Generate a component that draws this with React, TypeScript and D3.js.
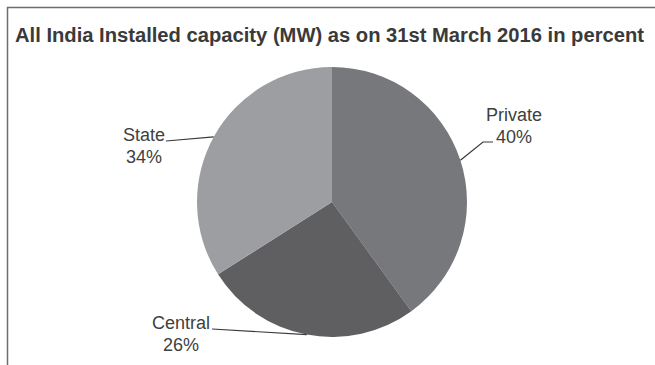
import React from "react";
import * as d3 from "d3";

const categories = ["Private", "Central", "State"];
const values = [40, 26, 34];
const colors = ["#77787c", "#5f5f61", "#9d9ea2"];

const W = 655;
const H = 365;
const cx = 332;
const cy = 202;
const R = 135;

const labelLayout: Record<string, { pts: [number, number][]; tx: number; ty: number }> = {
  Private: { pts: [[483, 142], [493, 142]], tx: 514, ty: 121 },
  Central: { pts: [[212, 329]], tx: 181, ty: 329 },
  State: { pts: [[166, 141]], tx: 144, ty: 141 },
};

export default function App() {
  const pie = d3.pie<number>().sort(null).startAngle(0).endAngle(2 * Math.PI);
  const arcs = pie(values);
  const arc = d3.arc<d3.PieArcDatum<number>>().innerRadius(0).outerRadius(R);
  const line = d3.line();

  return (
    <svg
      width={W}
      height={H}
      style={{ position: "absolute", left: 0, top: 0, display: "block", background: "#fff" }}
    >
      <rect x={0} y={0} width={W} height={H} fill="#fff" />
      <path d={`M7.5,${H} V7.5 H${W}`} fill="none" stroke="#6e6e6e" strokeWidth={1.5} />
      <text
        x={15}
        y={42}
        fontFamily="Liberation Sans, Arial, sans-serif"
        fontWeight="bold"
        fontSize={20}
        fill="#3a3a3a"
        textLength={629}
        lengthAdjust="spacingAndGlyphs"
      >
        All India Installed capacity (MW) as on 31st March 2016 in percent
      </text>
      <g transform={`translate(${cx},${cy})`}>
        {arcs.map((a, i) => (
          <path key={categories[i]} d={arc(a) || ""} fill={colors[i]} />
        ))}
      </g>
      {arcs.map((a, i) => {
        const mid = (a.startAngle + a.endAngle) / 2;
        const p0: [number, number] = [cx + R * Math.sin(mid), cy - R * Math.cos(mid)];
        const lay = labelLayout[categories[i]];
        const pts: [number, number][] = [p0, ...lay.pts];
        return (
          <g key={"l" + categories[i]}>
            <path d={line(pts) || ""} fill="none" stroke="#3a3a3a" strokeWidth={1.2} />
            <text
              x={lay.tx}
              y={lay.ty}
              textAnchor="middle"
              fontFamily="Liberation Sans, Arial, sans-serif"
              fontSize={18}
              fill="#404040"
            >
              {categories[i]}
            </text>
            <text
              x={lay.tx}
              y={lay.ty + 22}
              textAnchor="middle"
              fontFamily="Liberation Sans, Arial, sans-serif"
              fontSize={18}
              fill="#404040"
            >
              {values[i]}%
            </text>
          </g>
        );
      })}
    </svg>
  );
}
